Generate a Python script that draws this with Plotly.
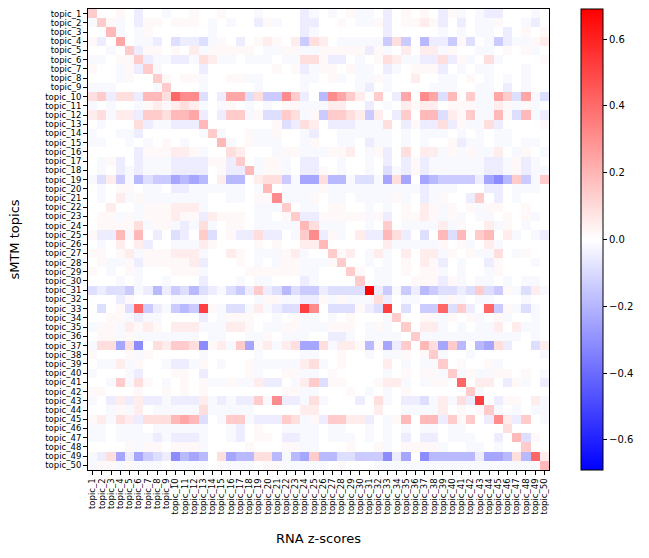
import plotly.graph_objects as go

topics = [f"topic_{i}" for i in range(1, 51)]

# value levels (code -> correlation value)
level_codes = ['0', '1', '2', '3', '4', '5', '6', '7', '8', '9', 'R',
               'a', 'b', 'c', 'd', 'e', 'f', 'g', 'h']
level_values = [0.0, 0.02, 0.05, 0.09, 0.14, 0.19, 0.24, 0.31, 0.41, 0.52, 0.69,
                -0.02, -0.05, -0.09, -0.14, -0.19, -0.24, -0.31, -0.41]

# one string per sMTM topic (row), one character per RNA z-score topic (column)
rows_a = [
    "40010b00a00100100" "0a0000ba0a01aa0b" "01010b1a0abb000a0",
    "a41a0b1101110a0a0" "0b1a00bb0010aa1b" "01121b0b0aa100ab0",
    "005a0a1000000a000" "000000ba0000000b" "00000a0a0aa0b0101",
    "1b060aab0cbbca10b" "012102d320aaaaad" "3d0ebbd1c0adbaa12",
    "00a04b110102a1111" "10aa11aa11111b1a" "02022a100aa0101a0",
    "aa0114baabba32aa0" "aaa0aa331bb0a013" "2aabb3b1a03a00001",
    "100a1b4a0000b0000" "000101ba1101aa0b" "a0111b0a0aa000a00",
    "000a10041011a0011" "aa0000aa01a0aa1a" "00200aa010a0a0a00",
    "aaa0000a4000a0000" "0a0000a00000ab0a" "0000aaa00aa0b0a00",
    "34b33b553877c0b66" "c3dd74b0e7642040" "b6076c504aa64c6ac",
    "a0a00a121232a0a10" "a0a011aaa2200b0a" "021220111aa21a1a0",
    "23a22b443556b0b44" "a1cc43a1d4432d20" "b4055c214aa51c5ab",
    "0a0003baabbb50000" "0001cb320bbbaaa3" "0b1bb3b1aa3b00001",
    "a00aab000000a4a00" "1aa100ab00aaaaaa" "0a0aaa0a0a0aa0000",
    "aa00a0a010a0005a0" "1aaa00a100aa0baa" "0a0a001baa0aa0aa0",
    "00000b111221a0032" "000a11aaa1120a1b" "03022a1a1aa20a10a",
    "0a1b0baaabbbb11b4" "0a11a0bb00a00a0b" "0b1baaaaaabba1ba0",
    "0a0babaaabbbb01bb" "5a11a0bb10a00a0c" "ab1baaaaaabba1baa",
]
rows_b = [
    "ac2daecddfefe02ee" "0233daff3eeaccaf" "3f0feddddbfge4da4",
    "0a0110aa0bbaaaaaa" "0a50aaaa1aaaaaaa" "aaabaaa000bb0aaa0",
    "0a02a1aaaaaaa00aa" "0117aaa10aa0aaaa" "1a0ba100b40b0a000",
    "00200a111222a0000" "0aaa40aa01100a0a" "01021a101a1100100",
    "011a1a111211b2111" "0aa014bb11111a1b" "01121a1a0aa0101a0",
    "011113a11aba3a011" "0aaaaa53aaa00a04" "0aaaa2a1002a10a00",
    "1bb5a50b0cb04c01b" "b3bb0a47b1a02bb5" "3b0c05c504502a0ab",
    "0a0202b00aaa21000" "0101002250000002" "aaaaa101a02a00000",
    "11012a111222a0021" "0aaa12a004120a2a" "02022a101aa30a100",
    "01aa1b111112b0001" "0a0a11aaa1400a0a" "01021b0a00b1000a0",
    "10a01a000111a0000" "111111aa000410aa" "01011a0a00a100000",
    "000a0a00a000b000a" "0aa000ba000040aa" "00111b1a0aa0a0aa0",
    "cbccdabebdcecbacd" "b4bcecddbccccRbd" "adbedccbc4cd1ac2a",
    "000b10000aaaa0000" "0a11aabb1a1aaa3b" "0aa00a1a0aa000a00",
    "0c01c8dbaded91acc" "a2abcc970ccc1bc9" "0c0dd8c4b08d1aca0",
    "0011abaa0000b0a11" "100a01aa0a01000a" "40011a101a01a00a0",
    "a11a21210222aaa22" "10aa11aaa1110a1a" "04022a0a0aa202aa0",
    "011a1aaaaaaa0aa00" "aa10aaa00bba0aaa" "a04aaaaaaaaaaa0a0",
]
rows_c = [
    "a33f3g032443g12a4" "f12a23ff3a221e1f" "b4053f4e0ef3b00c2",
    "10001a100000a0000" "0a0000aa00100a0a" "a1014a00a0000000a",
    "0aa2a100abba10a00" "1aaaaa23a0100002" "0a0aa401001a00000",
    "a000ab000110b0000" "1a0011aa0100000a" "01011a4a1aa11010a",
    "00a4a310a0101aa1a" "a2bb0a24c1100012" "2a0a11080220b1a0b",
    "11000100101010000" "000011aa00010a0a" "010000004a0000000",
    "a0b2b2bbabbb2abab" "b4a7bba3a000b03a" "0bbca2a3b90b1102a",
    "00a1a20aaaaa3aaaa" "a000002200000020" "0aaaa201014a0a0aa",
    "12a32b333565c0a44" "abbb43a1b4422b0a" "15055b4140b72b40a",
    "aa0aaa0aaaaaa00ab" "0100aaaa0aa00a0a" "0a0aa0aa000030000",
    "aa0aaaababbba00ab" "0110bbaa0aaa0a0a" "0b0bb0aaa00b05c10",
    "00001a110111a0000" "100011aa0001001a" "01111a00aa0a00400",
    "ab3fbfdcbgefe03fe" "e33eaef4eeccdddg" "bf0geeeeebffe3e82",
    "a11a1aaa0aaaa01aa" "a011aaaaa01000aa" "aaaaaaaaaaaaaaaa5",
]

row_codes = rows_a + rows_b + rows_c
lookup = dict(zip(level_codes, level_values))
z = []
for r in row_codes:
    vals = [lookup[ch] for ch in r]
    if len(vals) < 50:
        vals = vals + [0.0] * (50 - len(vals))
    z.append(vals[:50])

zmax = 0.69
cbar_ticks = [-0.6, -0.4, -0.2, 0.0, 0.2, 0.4, 0.6]
cbar_text = [("\u2212" if v < 0 else "") + f"{abs(v):.1f}" for v in cbar_ticks]

fig = go.Figure(go.Heatmap(
    z=z, x=topics, y=topics,
    zmin=-zmax, zmax=zmax,
    colorscale=[[0, "rgb(0,0,255)"], [0.5, "rgb(255,255,255)"], [1, "rgb(255,0,0)"]],
    colorbar=dict(
        x=(581 - 88) / 461, xanchor="left", y=0.5, yanchor="middle",
        len=1.0, lenmode="fraction", thickness=22, xpad=0, ypad=0,
        outlinewidth=1, outlinecolor="black",
        tickvals=cbar_ticks, ticktext=cbar_text,
        ticks="outside", ticklen=4, tickcolor="black",
        tickfont=dict(family="DejaVu Sans", size=10, color="black"),
    ),
))

fig.update_layout(
    width=649, height=558,
    margin=dict(l=88, r=100, t=9, b=88, pad=0),
    paper_bgcolor="white", plot_bgcolor="white",
    font=dict(family="DejaVu Sans", color="black"),
)
fig.update_xaxes(
    tickmode="array", tickvals=topics, ticktext=topics,
    tickangle=-90, tickfont=dict(size=8.5), ticks="outside", ticklen=4,
    tickcolor="black", showline=True, linecolor="black", linewidth=1, mirror=True,
    title=dict(text="RNA z-scores", font=dict(size=13), standoff=20),
    showgrid=False, zeroline=False,
)
fig.update_yaxes(
    tickmode="array", tickvals=topics, ticktext=topics,
    autorange="reversed", tickfont=dict(size=8.5), ticks="outside", ticklen=4,
    tickcolor="black", showline=True, linecolor="black", linewidth=1, mirror=True,
    title=dict(text="sMTM topics", font=dict(size=13), standoff=22),
    showgrid=False, zeroline=False,
)

fig.write_html("out.html")
